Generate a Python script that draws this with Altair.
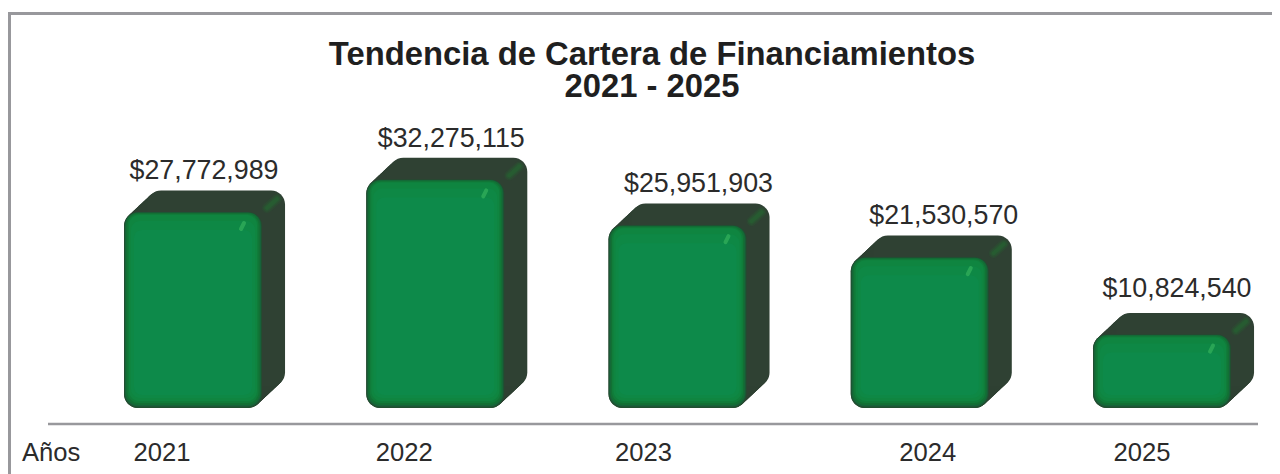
import altair as alt
import pandas as pd

years = [2021, 2022, 2023, 2024, 2025]
values = [27772989, 32275115, 25951903, 21530570, 10824540]
value_labels = ["$27,772,989", "$32,275,115", "$25,951,903", "$21,530,570", "$10,824,540"]
label_shift = [11, 16, 21, 24, 15]
label_lift = [33, 32, 33, 33, 38]
year_shift = [-31, -31, -34, 8, -20]

FONT = "Liberation Sans"
GRAY = "#98989c"
TEXT = "#2b2b2b"
W, H = 1264, 466
PX_X = 1 / 242.25          # years per pixel
PX_Y = 1e6 / 7.23          # dollars per pixel
FLOOR = 660000
xs = alt.Scale(domain=[2021 - 185 * PX_X, 2021 + (W - 185) * PX_X], range=[0, W], nice=False, zero=False)
ys = alt.Scale(domain=[-(H - 404.8) * PX_Y, 404.8 * PX_Y], nice=False, zero=False)
X = alt.X("x0:Q", scale=xs, axis=None)
Y = alt.Y("y0:Q", scale=ys, axis=None)


def box_rows(ix=0.0, itop=0.0, ibot=0.0, dx=0.0, dy=0.0):
    return pd.DataFrame([
        {
            "x0": yr - (69 - ix - dx) * PX_X,
            "x1": yr + (69 - ix + dx) * PX_X,
            "y0": FLOOR + (ibot + dy) * PX_Y,
            "y1": v + (-itop + dy) * PX_Y,
        }
        for yr, v in zip(years, values)
    ])


def box(color, r, **kw):
    return alt.Chart(box_rows(**kw)).mark_rect(color=color, cornerRadius=r).encode(
        x=X, x2="x1:Q", y=Y, y2="y1:Q"
    )


layers = []
# extruded dark body
for i in range(0, 25):
    layers.append(box("#2f4133", 14, dx=i * 0.96, dy=i * 0.9))
# soft glow on the far corner
glow = pd.DataFrame({
    "x0": [yr + 74 * PX_X for yr in years],
    "x1": [yr + 84 * PX_X for yr in years],
    "y0": [v + 4 * PX_Y for v in values],
    "y1": [v + 13 * PX_Y for v in values],
})
for sw, op in [(10, 0.12), (7, 0.18), (4, 0.25)]:
    layers.append(alt.Chart(glow).mark_rule(color="#1f7a30", strokeWidth=sw, strokeCap="round", opacity=op)
                  .encode(x=X, x2="x1:Q", y=Y, y2="y1:Q"))
# front face, nested from dark rim to bright centre
layers.append(box("#214f30", 14))
layers.append(box("#17623a", 13, ix=1, itop=0.5, ibot=1.5))
layers.append(box("#127034", 12, ix=2, itop=1, ibot=3))
layers.append(box("#107c3a", 11, ix=3.5, itop=2, ibot=5))
layers.append(box("#0f8540", 10, ix=5, itop=3, ibot=7))
layers.append(box("#0e8845", 9, ix=7, itop=9, ibot=10))
layers.append(box("#0d8a4a", 8, ix=10, itop=18, ibot=13))
# highlight
spark = pd.DataFrame({
    "x0": [yr + 48 * PX_X for yr in years],
    "x1": [yr + 51 * PX_X for yr in years],
    "y0": [v - 17 * PX_Y for v in values],
    "y1": [v - 11 * PX_Y for v in values],
})
layers.append(alt.Chart(spark).mark_rule(color="#35b25c", strokeWidth=4, strokeCap="round", opacity=0.7)
              .encode(x=X, x2="x1:Q", y=Y, y2="y1:Q"))

# baseline and frame
base = pd.DataFrame({"x0": [2021 - 145 * PX_X], "x1": [2021 + 1065 * PX_X], "y0": [-11.2 * PX_Y + 0]})
layers.append(alt.Chart(base).mark_rule(color=GRAY, strokeWidth=2.5).encode(x=X, x2="x1:Q", y=Y))
layers.append(alt.Chart(pd.DataFrame({"a": [0]})).mark_rule(color=GRAY, strokeWidth=3).encode(
    x=alt.value(1.5), x2=alt.value(W), y=alt.value(5.5)))
layers.append(alt.Chart(pd.DataFrame({"a": [0]})).mark_rule(color=GRAY, strokeWidth=3).encode(
    x=alt.value(1.5), y=alt.value(4), y2=alt.value(H)))

# value labels
lab = pd.DataFrame({
    "x0": [yr + s * PX_X for yr, s in zip(years, label_shift)],
    "y0": [v + l * PX_Y for v, l in zip(values, label_lift)],
    "t": value_labels,
})
layers.append(alt.Chart(lab).mark_text(font=FONT, fontSize=26.8, color=TEXT, baseline="alphabetic", align="center")
              .encode(x=X, y=Y, text="t:N"))
# year labels
yl = pd.DataFrame({
    "x0": [yr + s * PX_X for yr, s in zip(years, year_shift)],
    "t": [str(y) for y in years],
})
layers.append(alt.Chart(yl).mark_text(font=FONT, fontSize=25.6, color=TEXT, baseline="alphabetic", align="center")
              .encode(x=X, y=alt.value(453), text="t:N"))
layers.append(alt.Chart(pd.DataFrame({"t": ["Años"]})).mark_text(
    font=FONT, fontSize=25.6, color=TEXT, baseline="alphabetic", align="left")
    .encode(x=alt.value(14), y=alt.value(453), text="t:N"))

chart = alt.layer(*layers).properties(
    width=W, height=H,
    padding=0,
    autosize=alt.AutoSizeParams(type="none"),
    background="white",
    title=alt.TitleParams(
        text=["Tendencia de Cartera de Financiamientos", "2021 - 2025"],
        font=FONT, fontSize=32.8, fontWeight="bold", color="#1f1f1f",
        lineHeight=32, anchor="middle", dx=12, offset=-122, baseline="alphabetic",
    ),
).configure_view(stroke=None)

chart.save("out.html", embed_options={"renderer": "svg", "actions": False})
